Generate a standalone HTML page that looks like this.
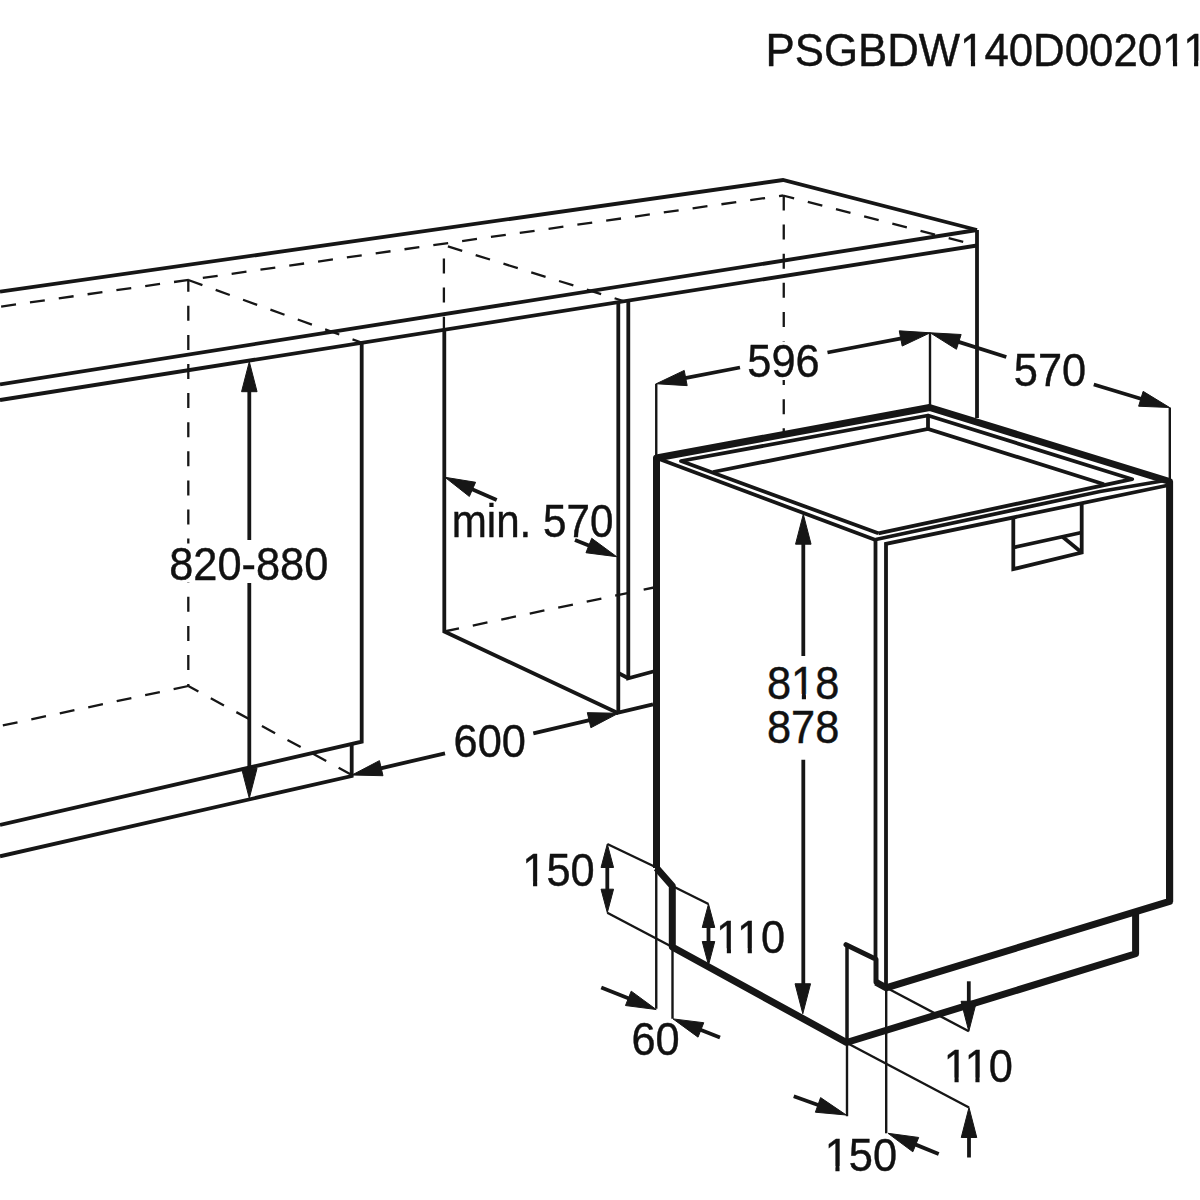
<!DOCTYPE html>
<html><head><meta charset="utf-8"><style>
html,body{margin:0;padding:0;background:#fff;}
svg{display:block;}
text{font-family:"Liberation Sans",sans-serif;fill:#111;stroke:#111;stroke-width:0.4px;}
</style></head><body>
<svg width="1200" height="1200" viewBox="0 0 1200 1200">
<rect width="1200" height="1200" fill="#fff"/>
<g fill="#161616" stroke="#161616">
<path d="M0.00 291.70 L783.00 180.00 L977.00 230.00" fill="none" stroke-width="3.8" stroke-linecap="butt" stroke-linejoin="miter"/>
<path d="M0.00 384.30 L977.00 230.00" fill="none" stroke-width="3.8" stroke-linecap="butt" stroke-linejoin="miter"/>
<path d="M0.00 400.00 L977.00 245.50" fill="none" stroke-width="3.8" stroke-linecap="butt" stroke-linejoin="miter"/>
<path d="M977.00 230.00 L977.00 418.00" fill="none" stroke-width="3.8" stroke-linecap="butt" stroke-linejoin="miter"/>
<path d="M783.00 195.50 L0.00 306.70" fill="none" stroke-width="2.3" stroke-linecap="butt" stroke-linejoin="miter" stroke-dasharray="15 14.1" stroke-dashoffset="11"/>
<path d="M783.00 195.50 L975.00 245.00" fill="none" stroke-width="2.3" stroke-linecap="butt" stroke-linejoin="miter" stroke-dasharray="15 14.1" stroke-dashoffset="3.5"/>
<path d="M783.75 195.50 L783.75 432.00" fill="none" stroke-width="2.3" stroke-linecap="butt" stroke-linejoin="miter" stroke-dasharray="15 14.1" stroke-dashoffset="0"/>
<path d="M188.30 280.00 L188.30 686.00" fill="none" stroke-width="2.3" stroke-linecap="butt" stroke-linejoin="miter" stroke-dasharray="15 14.1" stroke-dashoffset="3.3"/>
<path d="M188.30 280.00 L360.00 342.00" fill="none" stroke-width="2.3" stroke-linecap="butt" stroke-linejoin="miter" stroke-dasharray="15 14.1" stroke-dashoffset="0"/>
<path d="M188.30 686.00 L0.00 726.00" fill="none" stroke-width="2.3" stroke-linecap="butt" stroke-linejoin="miter" stroke-dasharray="15 14.1" stroke-dashoffset="0"/>
<path d="M188.30 686.00 L352.00 775.00" fill="none" stroke-width="2.3" stroke-linecap="butt" stroke-linejoin="miter" stroke-dasharray="15 14.1" stroke-dashoffset="3.5"/>
<path d="M361.70 341.00 L361.70 741.70 L0.00 825.00" fill="none" stroke-width="3.8" stroke-linecap="butt" stroke-linejoin="miter"/>
<path d="M351.70 743.00 L351.70 776.00 L0.00 856.30" fill="none" stroke-width="3.8" stroke-linecap="butt" stroke-linejoin="miter"/>
<path d="M249.30 385.00 L249.30 540.00" fill="none" stroke-width="3.8" stroke-linecap="butt" stroke-linejoin="miter"/>
<path d="M249.30 583.00 L249.30 775.00" fill="none" stroke-width="3.8" stroke-linecap="butt" stroke-linejoin="miter"/>
<polygon points="249.30,361.70 257.05,391.70 241.55,391.70"/>
<polygon points="249.30,798.30 241.55,768.30 257.05,768.30"/>
<path d="M443.90 244.50 L443.90 330.00" fill="none" stroke-width="2.3" stroke-linecap="butt" stroke-linejoin="miter" stroke-dasharray="15 14.1" stroke-dashoffset="15.1"/>
<path d="M443.30 245.00 L625.00 301.50" fill="none" stroke-width="2.3" stroke-linecap="butt" stroke-linejoin="miter" stroke-dasharray="15 14.1" stroke-dashoffset="24.3"/>
<path d="M444.30 329.00 L444.30 631.50 L618.30 713.30" fill="none" stroke-width="3.8" stroke-linecap="butt" stroke-linejoin="miter"/>
<path d="M444.30 631.50 L654.00 587.50" fill="none" stroke-width="2.3" stroke-linecap="butt" stroke-linejoin="miter" stroke-dasharray="15 14.1" stroke-dashoffset="0"/>
<path d="M618.30 303.00 L618.30 712.70 L653.00 704.30" fill="none" stroke-width="3.8" stroke-linecap="butt" stroke-linejoin="miter"/>
<path d="M628.30 301.70 L628.30 678.30 L653.30 671.50" fill="none" stroke-width="3.8" stroke-linecap="butt" stroke-linejoin="miter"/>
<path d="M618.30 673.00 L628.30 678.30" fill="none" stroke-width="3.8" stroke-linecap="butt" stroke-linejoin="miter"/>
<path d="M445.00 753.30 L375.37 769.55" fill="none" stroke-width="3.8" stroke-linecap="butt" stroke-linejoin="miter"/>
<polygon points="352.00,775.00 379.45,760.64 382.98,775.73"/>
<path d="M533.30 733.30 L594.94 718.80" fill="none" stroke-width="3.8" stroke-linecap="butt" stroke-linejoin="miter"/>
<polygon points="618.30,713.30 590.87,727.72 587.32,712.63"/>
<path d="M496.70 500.00 L466.98 486.95" fill="none" stroke-width="3.8" stroke-linecap="butt" stroke-linejoin="miter"/>
<polygon points="445.00,477.30 475.58,482.26 469.35,496.46"/>
<path d="M575.00 540.00 L594.42 547.78" fill="none" stroke-width="3.8" stroke-linecap="butt" stroke-linejoin="miter"/>
<polygon points="616.70,556.70 585.97,552.74 591.73,538.35"/>
<path d="M656.25 383.75 L656.25 458.00" fill="none" stroke-width="2.4" stroke-linecap="butt" stroke-linejoin="miter"/>
<path d="M930.00 332.80 L930.00 406.00" fill="none" stroke-width="2.4" stroke-linecap="butt" stroke-linejoin="miter"/>
<path d="M1169.80 407.50 L1169.80 481.00" fill="none" stroke-width="2.4" stroke-linecap="butt" stroke-linejoin="miter"/>
<path d="M740.00 367.50 L679.81 379.18" fill="none" stroke-width="3.8" stroke-linecap="butt" stroke-linejoin="miter"/>
<polygon points="656.25,383.75 684.22,370.43 687.18,385.64"/>
<path d="M827.50 352.50 L906.63 337.32" fill="none" stroke-width="3.8" stroke-linecap="butt" stroke-linejoin="miter"/>
<polygon points="930.20,332.80 902.20,346.06 899.28,330.84"/>
<path d="M1006.30 357.00 L953.07 340.07" fill="none" stroke-width="3.8" stroke-linecap="butt" stroke-linejoin="miter"/>
<polygon points="930.20,332.80 961.14,334.51 956.44,349.28"/>
<path d="M1093.80 384.50 L1146.63 400.53" fill="none" stroke-width="3.8" stroke-linecap="butt" stroke-linejoin="miter"/>
<polygon points="1169.60,407.50 1138.64,406.21 1143.14,391.37"/>
<path d="M656.50 868.00 L656.50 458.00 L929.60 407.50 L1169.60 481.50 L1169.60 902.00" fill="none" stroke-width="7" stroke-linecap="butt" stroke-linejoin="round"/>
<path d="M656.50 458.00 L875.60 540.00" fill="none" stroke-width="3.8" stroke-linecap="butt" stroke-linejoin="miter"/>
<path d="M878.30 533.30 L681.00 461.00 L928.00 415.50 L1132.20 479.20 L878.30 533.30" fill="none" stroke-width="3.8" stroke-linecap="butt" stroke-linejoin="round"/>
<path d="M928.00 415.50 L928.00 429.00" fill="none" stroke-width="3.8" stroke-linecap="butt" stroke-linejoin="miter"/>
<path d="M713.00 472.00 L928.00 429.00 L1104.00 484.20" fill="none" stroke-width="3.8" stroke-linecap="butt" stroke-linejoin="miter"/>
<path d="M875.80 539.50 L1100.00 491.50 L1168.00 480.00" fill="none" stroke-width="3.8" stroke-linecap="butt" stroke-linejoin="miter"/>
<path d="M875.50 539.00 L875.50 959.00" fill="none" stroke-width="3.8" stroke-linecap="butt" stroke-linejoin="miter"/>
<path d="M886.00 988.00 L886.00 543.90 L1167.00 485.50" fill="none" stroke-width="3.8" stroke-linecap="butt" stroke-linejoin="miter"/>
<path d="M886.20 988.00 L886.20 1133.30" fill="none" stroke-width="2.4" stroke-linecap="butt" stroke-linejoin="miter"/>
<path d="M1013.30 517.50 L1013.30 569.20 L1081.70 552.50 L1081.70 504.00" fill="none" stroke-width="3.8" stroke-linecap="butt" stroke-linejoin="miter"/>
<path d="M1013.30 547.50 L1081.70 532.50" fill="none" stroke-width="3.8" stroke-linecap="butt" stroke-linejoin="miter"/>
<path d="M1062.50 536.70 L1081.70 552.50" fill="none" stroke-width="3.8" stroke-linecap="butt" stroke-linejoin="miter"/>
<path d="M656.50 868.00 L672.30 886.00 L672.30 947.00 L846.50 1042.50 L1135.60 953.75 L1135.60 912.00" fill="none" stroke-width="7" stroke-linecap="butt" stroke-linejoin="round"/>
<path d="M846.00 944.70 L876.00 959.30 L876.00 982.30 L886.00 987.80" fill="none" stroke-width="5" stroke-linecap="round" stroke-linejoin="round"/>
<path d="M876.00 982.30 L886.00 987.80 L1169.60 901.40 L1169.60 850.00" fill="none" stroke-width="7" stroke-linecap="butt" stroke-linejoin="round"/>
<path d="M847.00 945.00 L847.00 1043.00" fill="none" stroke-width="3.5" stroke-linecap="butt" stroke-linejoin="miter"/>
<path d="M847.00 1043.00 L847.00 1116.25" fill="none" stroke-width="2.4" stroke-linecap="butt" stroke-linejoin="miter"/>
<path d="M607.30 844.00 L656.50 867.50" fill="none" stroke-width="2.4" stroke-linecap="butt" stroke-linejoin="miter"/>
<path d="M607.30 912.70 L672.30 947.00" fill="none" stroke-width="2.4" stroke-linecap="butt" stroke-linejoin="miter"/>
<path d="M672.30 886.00 L708.50 904.00" fill="none" stroke-width="2.4" stroke-linecap="butt" stroke-linejoin="miter"/>
<path d="M607.30 855.00 L607.30 902.00" fill="none" stroke-width="3.8" stroke-linecap="butt" stroke-linejoin="miter"/>
<polygon points="607.30,844.00 613.55,867.50 601.05,867.50"/>
<polygon points="607.30,912.70 601.05,889.20 613.55,889.20"/>
<path d="M708.50 915.00 L708.50 955.00" fill="none" stroke-width="3.8" stroke-linecap="butt" stroke-linejoin="miter"/>
<polygon points="708.50,904.00 714.75,927.50 702.25,927.50"/>
<polygon points="708.50,965.00 702.25,941.50 714.75,941.50"/>
<path d="M656.25 868.00 L656.25 1008.75" fill="none" stroke-width="2.4" stroke-linecap="butt" stroke-linejoin="miter"/>
<path d="M672.50 947.00 L672.50 1018.75" fill="none" stroke-width="2.4" stroke-linecap="butt" stroke-linejoin="miter"/>
<path d="M601.25 987.50 L633.92 1000.58" fill="none" stroke-width="3.8" stroke-linecap="butt" stroke-linejoin="miter"/>
<polygon points="656.20,1009.50 625.47,1005.54 631.23,991.15"/>
<path d="M720.00 1037.50 L695.32 1027.73" fill="none" stroke-width="3.8" stroke-linecap="butt" stroke-linejoin="miter"/>
<polygon points="673.00,1018.90 703.75,1022.73 698.04,1037.15"/>
<path d="M803.30 530.00 L803.30 656.70" fill="none" stroke-width="3.8" stroke-linecap="butt" stroke-linejoin="miter"/>
<path d="M803.30 759.50 L803.30 1000.00" fill="none" stroke-width="3.8" stroke-linecap="butt" stroke-linejoin="miter"/>
<polygon points="803.30,514.20 811.05,544.20 795.55,544.20"/>
<polygon points="802.80,1013.75 795.05,983.75 810.55,983.75"/>
<path d="M886.50 987.70 L968.80 1031.30" fill="none" stroke-width="2.4" stroke-linecap="butt" stroke-linejoin="miter"/>
<path d="M847.00 1043.00 L969.00 1107.50" fill="none" stroke-width="2.4" stroke-linecap="butt" stroke-linejoin="miter"/>
<path d="M968.80 981.30 L968.80 1010.00" fill="none" stroke-width="3.8" stroke-linecap="butt" stroke-linejoin="miter"/>
<polygon points="968.80,1031.30 961.05,1001.30 976.55,1001.30"/>
<path d="M969.00 1125.00 L969.00 1157.50" fill="none" stroke-width="3.8" stroke-linecap="butt" stroke-linejoin="miter"/>
<polygon points="969.00,1107.50 976.75,1137.50 961.25,1137.50"/>
<path d="M793.75 1096.25 L823.65 1106.93" fill="none" stroke-width="3.8" stroke-linecap="butt" stroke-linejoin="miter"/>
<polygon points="846.25,1115.00 815.39,1112.21 820.60,1097.61"/>
<path d="M938.70 1154.00 L910.22 1142.37" fill="none" stroke-width="3.8" stroke-linecap="butt" stroke-linejoin="miter"/>
<polygon points="888.00,1133.30 918.70,1137.46 912.84,1151.81"/>
</g>
<g style="opacity:0.999">
<g transform="translate(765.5 65.5) scale(1.009 1.045)"><text text-anchor="start" font-size="43.4">PSGBDW140D002011</text><rect x="194.73" y="-4.56" width="8.86" height="7.31" fill="#fff" stroke="none"/><rect x="207.72" y="-4.56" width="8.41" height="7.31" fill="#fff" stroke="none"/><rect x="394.97" y="-4.56" width="8.86" height="7.31" fill="#fff" stroke="none"/><rect x="407.96" y="-4.56" width="8.41" height="7.31" fill="#fff" stroke="none"/><rect x="415.87" y="-4.56" width="8.86" height="7.31" fill="#fff" stroke="none"/><rect x="428.86" y="-4.56" width="8.41" height="7.31" fill="#fff" stroke="none"/></g>
<rect x="166" y="543.5" width="165" height="39.0" fill="#fff" stroke="none"/>
<g transform="translate(248.76 579.76) scale(1.0 1.045)"><text text-anchor="middle" font-size="43.4">820-880</text></g>
<g transform="translate(532.5 537.4) scale(0.972 1.045)"><text text-anchor="middle" font-size="43.4">min. 570</text></g>
<g transform="translate(489.7 756.8) scale(1.0 1.045)"><text text-anchor="middle" font-size="43.4">600</text></g>
<rect x="745" y="341.5" width="77" height="38.5" fill="#fff" stroke="none"/>
<g transform="translate(783.55 377.0) scale(1.0 1.045)"><text text-anchor="middle" font-size="43.4">596</text></g>
<g transform="translate(1050 386.14) scale(1.0 1.045)"><text text-anchor="middle" font-size="43.4">570</text></g>
<rect x="764" y="656" width="77" height="103.5" fill="#fff" stroke="none"/>
<g transform="translate(803.15 698.64) scale(1.0 1.045)"><text text-anchor="middle" font-size="43.4">818</text><rect x="-10.17" y="-4.56" width="8.86" height="7.31" fill="#fff" stroke="none"/><rect x="2.82" y="-4.56" width="8.41" height="7.31" fill="#fff" stroke="none"/></g>
<g transform="translate(803.15 742.8) scale(1.0 1.045)"><text text-anchor="middle" font-size="43.4">878</text></g>
<g transform="translate(558.5 886.2) scale(1.0 1.045)"><text text-anchor="middle" font-size="43.4">150</text><rect x="-34.29" y="-4.56" width="8.86" height="7.31" fill="#fff" stroke="none"/><rect x="-21.30" y="-4.56" width="8.41" height="7.31" fill="#fff" stroke="none"/></g>
<g transform="translate(750.65 953.16) scale(1.0 1.045)"><text text-anchor="middle" font-size="43.4">110</text><rect x="-32.68" y="-4.56" width="8.86" height="7.31" fill="#fff" stroke="none"/><rect x="-19.69" y="-4.56" width="8.41" height="7.31" fill="#fff" stroke="none"/><rect x="-11.78" y="-4.56" width="8.86" height="7.31" fill="#fff" stroke="none"/><rect x="1.21" y="-4.56" width="8.41" height="7.31" fill="#fff" stroke="none"/></g>
<g transform="translate(655.55 1054.7) scale(1.0 1.045)"><text text-anchor="middle" font-size="43.4">60</text></g>
<g transform="translate(978.34 1082.4) scale(1.0 1.045)"><text text-anchor="middle" font-size="43.4">110</text><rect x="-32.68" y="-4.56" width="8.86" height="7.31" fill="#fff" stroke="none"/><rect x="-19.69" y="-4.56" width="8.41" height="7.31" fill="#fff" stroke="none"/><rect x="-11.78" y="-4.56" width="8.86" height="7.31" fill="#fff" stroke="none"/><rect x="1.21" y="-4.56" width="8.41" height="7.31" fill="#fff" stroke="none"/></g>
<g transform="translate(860.84 1170.9) scale(1.0 1.045)"><text text-anchor="middle" font-size="43.4">150</text><rect x="-34.29" y="-4.56" width="8.86" height="7.31" fill="#fff" stroke="none"/><rect x="-21.30" y="-4.56" width="8.41" height="7.31" fill="#fff" stroke="none"/></g>
</g>
</svg>
</body></html>
